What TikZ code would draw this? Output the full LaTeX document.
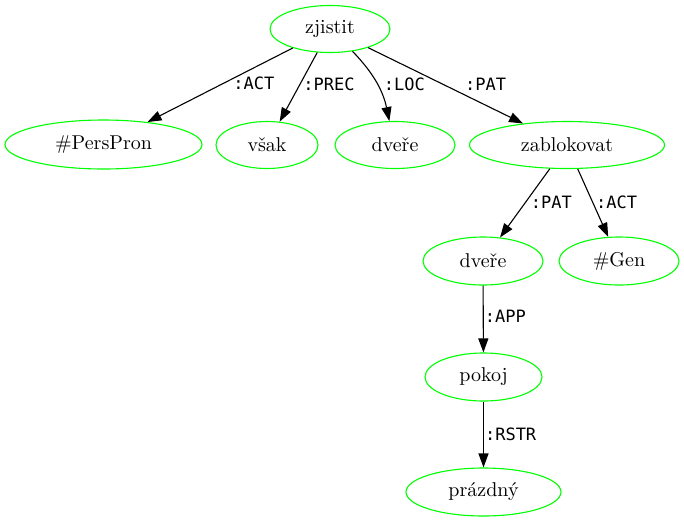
\documentclass[tikz,border=0pt]{standalone}
\usepackage{fontspec}
\newfontfamily\labfont{DejaVu Sans Mono}
\newfontfamily\nodefont{lmroman10-regular.otf}
\usetikzlibrary{shapes.geometric,arrows.meta,positioning}

\begin{document}
\begin{tikzpicture}[x=1pt,y=1pt,
  tnode/.style={ellipse,draw=green,line width=1.1pt,inner sep=0pt,font=\nodefont\fontsize{20}{24}\selectfont},
  tedge/.style={-{Triangle[length=14pt,width=10pt]},line width=1.1pt},
  tlab/.style={font=\labfont\fontsize{17}{20}\selectfont,inner sep=0pt,anchor=west}]
\useasboundingbox (0,0) rectangle (684,-523);

\node (n0) at (330,-29) [tnode,minimum width=120pt,minimum height=47pt] {zjistit};
\node (n1) at (103.5,-144.5) [tnode,minimum width=197pt,minimum height=49pt] {\#PersPron};
\node (n2) at (267,-145) [tnode,minimum width=102pt,minimum height=47pt] {však};
\node (n3) at (395,-145) [tnode,minimum width=120pt,minimum height=47pt] {dveře};
\node (n4) at (567,-145) [tnode,minimum width=195pt,minimum height=47pt] {zablokovat};
\node (n5) at (483,-261) [tnode,minimum width=120pt,minimum height=48pt] {dveře};
\node (n6) at (619,-261) [tnode,minimum width=120pt,minimum height=48pt] {\#Gen};
\node (n7) at (483.5,-377) [tnode,minimum width=117pt,minimum height=48pt] {pokoj};
\node (n8) at (483.5,-492) [tnode,minimum width=155pt,minimum height=48pt] {prázdný};

\foreach \a/\b/\lab/\p/\s/\bend in {n0/n1/:ACT/.48/10/0, n0/n2/:PREC/.46/3/0, n0/n3/:LOC/.52/6/16, n0/n4/:PAT/.485/21/0, n4/n5/:PAT/.49/5/0, n4/n6/:ACT/.49/3/0, n5/n7/:APP/.46/1/0, n7/n8/:RSTR/.49/1/0} {
\draw[tedge] (\a) to[bend left=\bend] node[tlab,pos=\p,xshift=\s pt] {\lab} (\b);
};
\end{tikzpicture}
\end{document}
